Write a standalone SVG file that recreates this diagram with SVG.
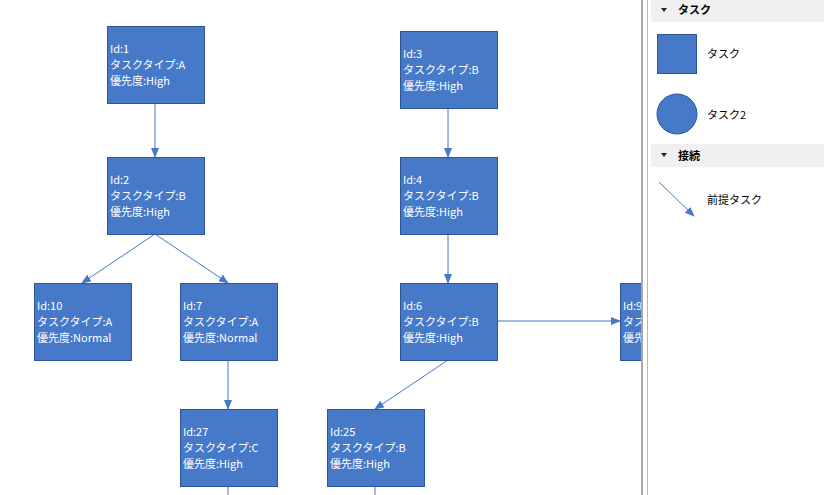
<svg xmlns="http://www.w3.org/2000/svg" width="824" height="495" viewBox="0 0 824 495">
<defs>
<style>
.n rect{fill:#4779c9;stroke:#2f5597;stroke-width:1}
.n text{fill:#fff;font-family:"Noto Sans CJK JP","Liberation Sans",sans-serif;font-size:11px}
.c line{stroke:#4779c9;stroke-width:1}
.p{font-family:"Noto Sans CJK JP","Liberation Sans",sans-serif;font-size:11px;fill:#000}
</style>
<marker id="a" markerWidth="10" markerHeight="8" refX="9" refY="4" orient="auto" markerUnits="userSpaceOnUse"><path d="M0,0L10,4L0,8z" fill="#4779c9"/></marker>
<clipPath id="cv"><rect x="0" y="0" width="641" height="495"/></clipPath>
</defs>
<rect width="824" height="495" fill="#fff"/>
<g clip-path="url(#cv)">
<g class="c" id="connectors">
<line x1="155" y1="103" x2="155" y2="157" marker-end="url(#a)"/>
<line x1="155" y1="234" x2="82" y2="283" marker-end="url(#a)"/>
<line x1="155" y1="234" x2="228" y2="283" marker-end="url(#a)"/>
<line x1="228" y1="360" x2="228" y2="409" marker-end="url(#a)"/>
<line x1="448" y1="108" x2="448" y2="157" marker-end="url(#a)"/>
<line x1="448" y1="234" x2="448" y2="283" marker-end="url(#a)"/>
<line x1="497" y1="321" x2="620" y2="321" marker-end="url(#a)"/>
<line x1="448" y1="360" x2="375" y2="409" marker-end="url(#a)"/>
<line x1="228" y1="486" x2="228" y2="495"/>
<line x1="375" y1="486" x2="375" y2="495"/>
</g>
<g class="n" id="n1"><rect x="107.5" y="26.5" width="97" height="77"/><text x="110" y="53">Id:1</text><text x="110" y="69">タスクタイプ:A</text><text x="110" y="85">優先度:High</text></g>
<g class="n" id="n2"><rect x="107.5" y="157.5" width="97" height="77"/><text x="110" y="184">Id:2</text><text x="110" y="200">タスクタイプ:B</text><text x="110" y="216">優先度:High</text></g>
<g class="n" id="n10"><rect x="34.5" y="283.5" width="97" height="77"/><text x="37" y="310">Id:10</text><text x="37" y="326">タスクタイプ:A</text><text x="37" y="342">優先度:Normal</text></g>
<g class="n" id="n7"><rect x="180.5" y="283.5" width="97" height="77"/><text x="183" y="310">Id:7</text><text x="183" y="326">タスクタイプ:A</text><text x="183" y="342">優先度:Normal</text></g>
<g class="n" id="n27"><rect x="180.5" y="409.5" width="97" height="77"/><text x="183" y="436">Id:27</text><text x="183" y="452">タスクタイプ:C</text><text x="183" y="468">優先度:High</text></g>
<g class="n" id="n3"><rect x="400.5" y="31.5" width="97" height="77"/><text x="403" y="58">Id:3</text><text x="403" y="74">タスクタイプ:B</text><text x="403" y="90">優先度:High</text></g>
<g class="n" id="n4"><rect x="400.5" y="157.5" width="97" height="77"/><text x="403" y="184">Id:4</text><text x="403" y="200">タスクタイプ:B</text><text x="403" y="216">優先度:High</text></g>
<g class="n" id="n6"><rect x="400.5" y="283.5" width="97" height="77"/><text x="403" y="310">Id:6</text><text x="403" y="326">タスクタイプ:B</text><text x="403" y="342">優先度:High</text></g>
<g class="n" id="n25"><rect x="327.5" y="409.5" width="97" height="77"/><text x="330" y="436">Id:25</text><text x="330" y="452">タスクタイプ:B</text><text x="330" y="468">優先度:High</text></g>
<g class="n" id="n9"><rect x="620.5" y="283.5" width="97" height="77"/><text x="623" y="310">Id:9</text><text x="623" y="326">タスクタイプ:B</text><text x="623" y="342">優先度:High</text></g>
</g>
<g id="panel">
<rect x="641" y="0" width="2" height="495" fill="#a8a8a8"/>
<rect x="647" y="0" width="1" height="495" fill="#b8b8b8"/>
<rect x="651" y="0" width="173" height="22" fill="#f0f0f0"/>
<path d="M661,8L667,8L664,12z" fill="#222"/>
<text class="p" x="678" y="14" font-weight="bold">タスク</text>
<rect x="657.5" y="34.5" width="39" height="39" fill="#4779c9" stroke="#2f5597"/>
<text class="p" x="707" y="58">タスク</text>
<circle cx="677" cy="114" r="20" fill="#4779c9" stroke="#2f5597"/>
<text class="p" x="707" y="119">タスク2</text>
<rect x="651" y="144" width="173" height="23" fill="#f0f0f0"/>
<path d="M661,153L667,153L664,157z" fill="#222"/>
<text class="p" x="678" y="160" font-weight="bold">接続</text>
<line x1="659" y1="182" x2="694" y2="216" stroke="#4779c9" marker-end="url(#a)"/>
<text class="p" x="707" y="204">前提タスク</text>
</g>
</svg>
